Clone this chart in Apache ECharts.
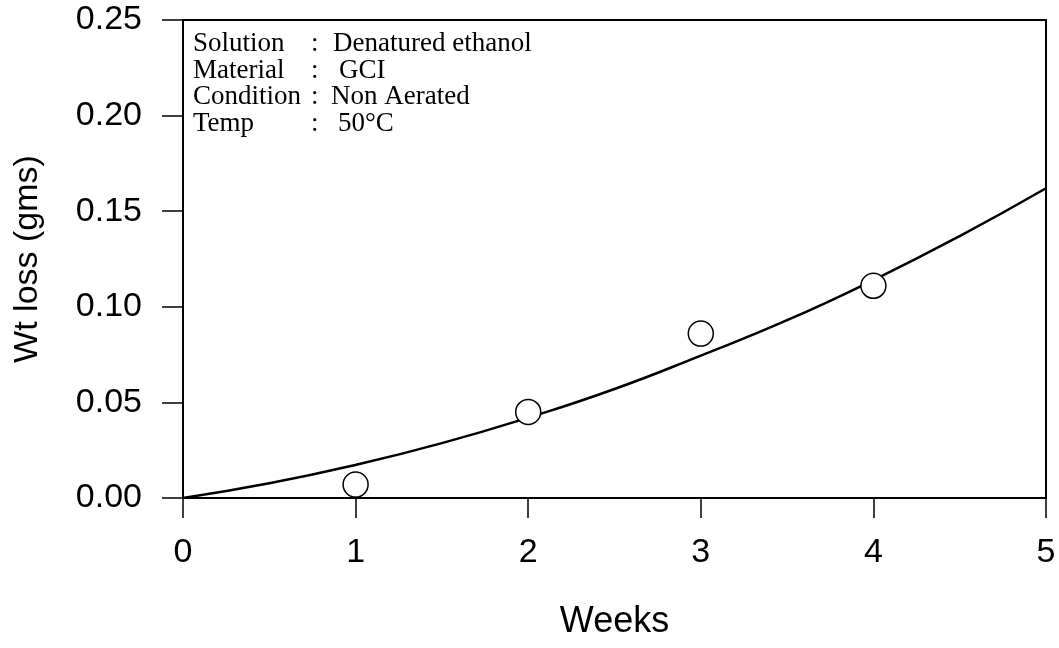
<!DOCTYPE html>
<html>
<head>
<meta charset="utf-8">
<script src="https://cdn.jsdelivr.net/npm/echarts@6/dist/echarts.min.js"></script>
<style>
html,body{margin:0;padding:0;background:#fff;}
#chart{width:1059px;height:648px;}
</style>
</head>
<body>
<div id="chart"></div>
<script>
// measured points
var weeks = [1, 2, 3, 4];
var wtLoss = [0.007, 0.045, 0.086, 0.111];
// fitted curve
var fitWeeks = [0, 0.5, 1, 1.5, 2, 2.5, 3, 3.5, 4, 4.5, 5];
var fitLoss = [0, 0.0077, 0.0173, 0.0287, 0.042, 0.057, 0.0745, 0.093, 0.114, 0.137, 0.162];
var infoLabels = ['Solution', 'Material', 'Condition', 'Temp'];
var infoValues = ['Denatured ethanol', 'GCI', 'Non Aerated', '50°C'];

function pairs(xs, ys){
  var out = [];
  for (var i = 0; i < xs.length; i++) {
    out.push([xs[i], ys[i]]);
  }
  return out;
}

var infoText = [];
var valueLeft = [333, 339, 331, 338];
for (var i = 0; i < infoLabels.length; i++) {
  var y = 44 + i * 26.5;
  var st = {fontFamily:'Liberation Serif', fontSize:27, fill:'#000', textVerticalAlign:'middle'};
  infoText.push({type:'text', x:193, y:y, style:Object.assign({text:infoLabels[i]}, st)});
  infoText.push({type:'text', x:311, y:y, style:Object.assign({text:':'}, st)});
  infoText.push({type:'text', x:valueLeft[i], y:y, style:Object.assign({text:infoValues[i]}, st)});
}

var myChart = echarts.init(document.getElementById('chart'));
var axisFont = {color:'#000', fontFamily:'Liberation Sans', fontSize:34};
var option = {
  animation:false,
  grid:{left:183, right:13, top:20, bottom:150, outerBoundsMode:'none', containLabel:false},
  graphic:infoText,
  xAxis:[{
    type:'value', min:0, max:5, interval:1,
    name:'Weeks', nameLocation:'middle', nameGap:106,
    nameTextStyle:{color:'#000', fontFamily:'Liberation Sans', fontSize:36},
    axisLine:{show:true, onZero:false, lineStyle:{color:'#000', width:2}},
    axisTick:{show:true, length:20, lineStyle:{color:'#000', width:1.5}},
    axisLabel:Object.assign({margin:38}, axisFont),
    splitLine:{show:false}
  },{
    type:'value', position:'top', min:0, max:5,
    axisLine:{show:true, onZero:false, lineStyle:{color:'#000', width:2}},
    axisTick:{show:false}, axisLabel:{show:false}, splitLine:{show:false}
  }],
  yAxis:[{
    type:'value', min:0, max:0.25, interval:0.05,
    name:'Wt loss (gms)', nameLocation:'middle', nameGap:138, nameRotate:90,
    nameTextStyle:{color:'#000', fontFamily:'Liberation Sans', fontSize:34},
    axisLine:{show:true, onZero:false, lineStyle:{color:'#000', width:2}},
    axisTick:{show:true, length:21, lineStyle:{color:'#000', width:1.5}},
    axisLabel:Object.assign({margin:41, formatter:function(v){ return v.toFixed(2); }}, axisFont),
    splitLine:{show:false}
  },{
    type:'value', position:'right', min:0, max:0.25,
    axisLine:{show:true, onZero:false, lineStyle:{color:'#000', width:2}},
    axisTick:{show:false}, axisLabel:{show:false}, splitLine:{show:false}
  }],
  series:[{
    type:'line', data:pairs(fitWeeks, fitLoss), smooth:true, showSymbol:false,
    lineStyle:{color:'#000', width:2.5}, z:2
  },{
    type:'scatter', data:pairs(weeks, wtLoss), symbol:'circle', symbolSize:25,
    itemStyle:{color:'#fff', borderColor:'#000', borderWidth:1.5, opacity:1}, z:3
  }]
};
myChart.setOption(option);
</script>
</body>
</html>
